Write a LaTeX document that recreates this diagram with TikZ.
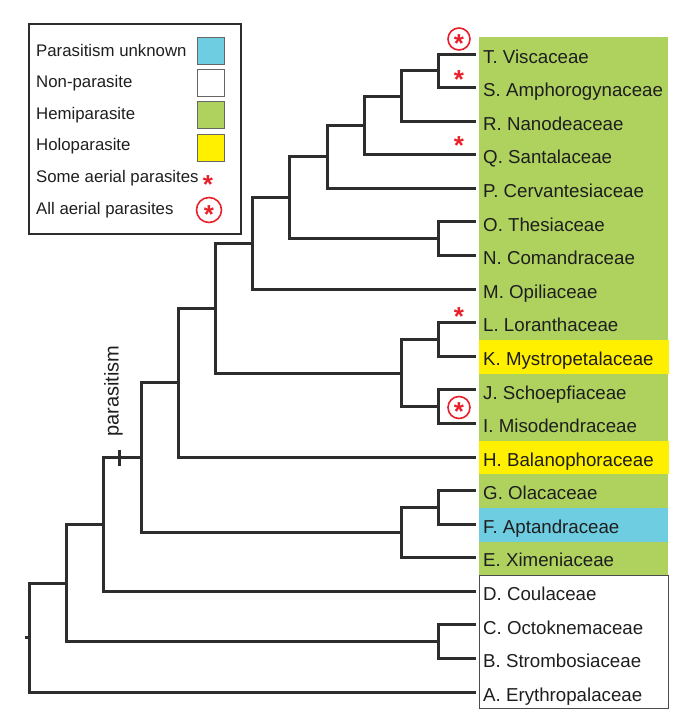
\documentclass[tikz,border=0pt]{standalone}
\usepackage{fontspec}
\setmainfont{Liberation Sans}
\definecolor{hemi}{RGB}{175,210,95}
\definecolor{holo}{RGB}{255,240,0}
\definecolor{unk}{RGB}{110,205,225}
\definecolor{ast}{RGB}{232,32,42}
\definecolor{ln}{RGB}{45,45,45}
\definecolor{txt}{RGB}{30,30,30}
\begin{document}
\begin{tikzpicture}[x=1pt,y=-1pt,
  branch/.style={draw=ln, line width=2.4pt},
  leaf/.style={anchor=base west, inner sep=0pt, font=\fontsize{18.7}{20}\selectfont, text=txt},
  legtext/.style={anchor=base west, inner sep=0pt, font=\fontsize{16.8}{20}\selectfont, text=txt},
  swatch/.style={draw=black!60, line width=1pt, minimum width=27pt, minimum height=27pt, inner sep=0pt},
  astk/.style={text=ast, font=\bfseries\fontsize{26}{26}\selectfont, inner sep=0pt, anchor=north},
  ring/.style={draw=ast, line width=1.6pt, circle, minimum size=22pt, inner sep=0pt},
]
\useasboundingbox (0,0) rectangle (692,728);

% ---- colour bands ----
\fill[hemi] (479,37) rectangle (668,575);
\fill[holo] (479,340) rectangle (669,373.5);
\fill[holo] (479,440.5) rectangle (669,474);
\fill[unk]  (479,508) rectangle (668,541.5);
\draw[black!70, line width=1pt] (479.5,575.5) rectangle (668.5,708.5);

% ---- leaf tips ----
\coordinate (tT) at (476,54.5);
\coordinate (tS) at (476,87.5);
\coordinate (tR) at (476,121.5);
\coordinate (tQ) at (476,154.5);
\coordinate (tP) at (476,188.5);
\coordinate (tO) at (476,221.5);
\coordinate (tN) at (476,255.5);
\coordinate (tM) at (476,289.5);
\coordinate (tL) at (476,322.5);
\coordinate (tK) at (476,356.5);
\coordinate (tJ) at (476,389.5);
\coordinate (tI) at (476,423.5);
\coordinate (tH) at (476,457.5);
\coordinate (tG) at (476,490.5);
\coordinate (tF) at (476,524.5);
\coordinate (tE) at (476,557.5);
\coordinate (tD) at (476,591.5);
\coordinate (tC) at (476,624.5);
\coordinate (tB) at (476,658.5);
\coordinate (tA) at (476,692.5);

% ---- leaf labels ----
\node[leaf] (lT) at (483,63.2) {T. Viscaceae};
\node[leaf] (lS) at (483,96.8) {S. Amphorogynaceae};
\node[leaf] (lR) at (483,130.4) {R. Nanodeaceae};
\node[leaf] (lQ) at (483,163.9) {Q. Santalaceae};
\node[leaf] (lP) at (483,197.5) {P. Cervantesiaceae};
\node[leaf] (lO) at (483,231.1) {O. Thesiaceae};
\node[leaf] (lN) at (483,264.7) {N. Comandraceae};
\node[leaf] (lM) at (483,298.3) {M. Opiliaceae};
\node[leaf] (lL) at (483,331.8) {L. Loranthaceae};
\node[leaf] (lK) at (483,365.4) {K. Mystropetalaceae};
\node[leaf] (lJ) at (483,399.0) {J. Schoepfiaceae};
\node[leaf] (lI) at (483,432.6) {I. Misodendraceae};
\node[leaf] (lH) at (483,466.2) {H. Balanophoraceae};
\node[leaf] (lG) at (483,499.7) {G. Olacaceae};
\node[leaf] (lF) at (483,533.3) {F. Aptandraceae};
\node[leaf] (lE) at (483,566.9) {E. Ximeniaceae};
\node[leaf] (lD) at (483,600.5) {D. Coulaceae};
\node[leaf] (lC) at (483,634.1) {C. Octoknemaceae};
\node[leaf] (lB) at (483,667.6) {B. Strombosiaceae};
\node[leaf] (lA) at (483,701.2) {A. Erythropalaceae};

% ---- internal nodes ----
\coordinate (nTS)    at (438.5,70.5);
\coordinate (nTSR)   at (401.5,96.5);
\coordinate (nTSRQ)  at (364.5,125.5);
\coordinate (nTSRQP) at (327.5,156.5);
\coordinate (nON)    at (438.5,238.5);
\coordinate (nA1)    at (289.5,197.5);
\coordinate (nA2)    at (252.5,243.5);
\coordinate (nLK)    at (438.5,339.5);
\coordinate (nJI)    at (438.5,406.5);
\coordinate (nLKJI)  at (401.5,373.5);
\coordinate (nA3)    at (215.5,308.5);
\coordinate (nA4)    at (178.5,382.5);
\coordinate (nGF)    at (438.5,507.5);
\coordinate (nGFE)   at (401.5,532.5);
\coordinate (nA5)    at (141.5,457.5);
\coordinate (nA6)    at (103.5,524.5);
\coordinate (nCB)    at (438.5,641.5);
\coordinate (nA7)    at (66.5,583.5);
\coordinate (root)   at (29.5,637.5);
\coordinate (rootstub) at (24.5,637.5);

% ---- branches ----
\draw[branch] (nTS) |- (tT);   \draw[branch] (nTS) |- (tS);
\draw[branch] (nTSR) |- (nTS); \draw[branch] (nTSR) |- (tR);
\draw[branch] (nTSRQ) |- (nTSR); \draw[branch] (nTSRQ) |- (tQ);
\draw[branch] (nTSRQP) |- (nTSRQ); \draw[branch] (nTSRQP) |- (tP);
\draw[branch] (nON) |- (tO);   \draw[branch] (nON) |- (tN);
\draw[branch] (nA1) |- (nTSRQP); \draw[branch] (nA1) |- (nON);
\draw[branch] (nA2) |- (nA1);  \draw[branch] (nA2) |- (tM);
\draw[branch] (nLK) |- (tL);   \draw[branch] (nLK) |- (tK);
\draw[branch] (nJI) |- (tJ);   \draw[branch] (nJI) |- (tI);
\draw[branch] (nLKJI) |- (nLK); \draw[branch] (nLKJI) |- (nJI);
\draw[branch] (nA3) |- (nA2);  \draw[branch] (nA3) |- (nLKJI);
\draw[branch] (nA4) |- (nA3);  \draw[branch] (nA4) |- (tH);
\draw[branch] (nGF) |- (tG);   \draw[branch] (nGF) |- (tF);
\draw[branch] (nGFE) |- (nGF); \draw[branch] (nGFE) |- (tE);
\draw[branch] (nA5) |- (nA4);  \draw[branch] (nA5) |- (nGFE);
\draw[branch] (nA6) |- (nA5);  \draw[branch] (nA6) |- (tD);
\draw[branch] (nCB) |- (tC);   \draw[branch] (nCB) |- (tB);
\draw[branch] (nA7) |- (nA6);  \draw[branch] (nA7) |- (nCB);
\draw[branch] (root) |- (nA7); \draw[branch] (root) |- (tA);
\draw[branch] (rootstub) -- (root);

% ---- parasitism marker ----
\coordinate (ptop) at (119.5,449.5);
\coordinate (pbot) at (119.5,466);
\draw[branch] (ptop) -- (pbot);
\node[rotate=90, anchor=base west, inner sep=0pt, font=\fontsize{20}{20}\selectfont, text=txt] (plabel) at (118.5,437) {parasitism};

% ---- aerial parasite marks ----
\node[ring] (rT) at (459,39) {};
\node[astk] (aT) at (459,34) {*};
\node[astk] (aS) at (459,70) {*};
\node[astk] (aQ) at (459,136) {*};
\node[astk] (aL) at (459,307) {*};
\node[ring] (rJI) at (459,407.5) {};
\node[astk] (aJI) at (459,402.5) {*};

% ---- legend ----
\draw[ln, line width=2pt] (29,24) rectangle (241,234);
\node[legtext] (g1) at (36,56) {Parasitism unknown};
\node[legtext] (g2) at (36,87.6) {Non-parasite};
\node[legtext] (g3) at (36,119.2) {Hemiparasite};
\node[legtext] (g4) at (36,150.8) {Holoparasite};
\node[legtext] (g5) at (36,182.4) {Some aerial parasites};
\node[legtext] (g6) at (36,214) {All aerial parasites};
\node[swatch, fill=unk]  (s1) at (210.5,50.5) {};
\node[swatch, fill=white] (s2) at (210.5,83) {};
\node[swatch, fill=hemi] (s3) at (210.5,115) {};
\node[swatch, fill=holo] (s4) at (210.5,148) {};
\node[astk] (s5) at (208,175) {*};
\node[ring, minimum size=25pt] (s6r) at (209,210) {};
\node[astk] (s6) at (209,205) {*};
\end{tikzpicture}
\end{document}
